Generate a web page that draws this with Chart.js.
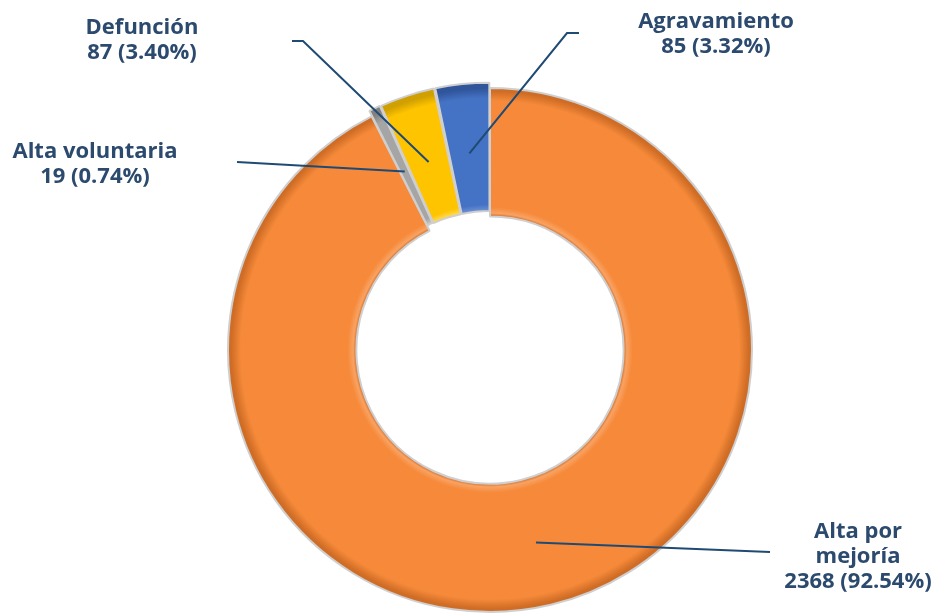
<!DOCTYPE html>
<html>
<head>
<meta charset="utf-8">
<script src="https://cdn.jsdelivr.net/npm/chart.js@4.4.0/dist/chart.umd.min.js"></script>
<style>
  html, body { margin: 0; padding: 0; background: #ffffff; }
  #wrap { width: 939px; height: 614px; position: relative; }
</style>
</head>
<body>
<div id="wrap"><canvas id="chart"></canvas></div>
<script>
// Data (clockwise from the top)
const categories = ['Alta por mejoría', 'Alta voluntaria', 'Defunción', 'Agravamiento'];
const counts = [2368, 19, 87, 85];
// How each category name is broken over lines in its label
const labelLines = [['Alta por', 'mejoría'], ['Alta voluntaria'], ['Defunción'], ['Agravamiento']];

// Colours: base, dark edge, light edge
const baseColors = ['#F68A3A', '#A5A5A5', '#FFC400', '#4472C4'];
const darkColors = ['#CF6C25', '#808080', '#D09F00', '#30559A'];
const lightColors = ['#F9A263', '#C9C9C9', '#FFD84D', '#6A8FD3'];

const RADIUS = 262;
const CUTOUT = 0.51;
const TEXT_COLOR = '#2B4A6E';
const LINE_COLOR = '#1F4A73';

// Where each label sits and where its leader line ends
const labelLayout = [
    { x: 858, y: 538, lineEnd: [[770, 552]] },
    { x: 95, y: 158, lineEnd: [[237, 162]] },
    { x: 142, y: 34, lineEnd: [[303, 41], [292, 41]] },
    { x: 716, y: 28, lineEnd: [[567, 33], [579, 33]] }
];

function ringFill(context) {
    const i = context.dataIndex;
    const chart = context.chart;
    const area = chart.chartArea;
    if (!area) {
        return baseColors[i];
    }
    const cx = (area.left + area.right) / 2;
    const cy = (area.top + area.bottom) / 2;
    const g = chart.ctx.createRadialGradient(cx, cy, RADIUS * CUTOUT, cx, cy, RADIUS);
    g.addColorStop(0, darkColors[i]);
    g.addColorStop(0.025, lightColors[i]);
    g.addColorStop(0.07, baseColors[i]);
    g.addColorStop(0.9, baseColors[i]);
    g.addColorStop(0.975, darkColors[i]);
    g.addColorStop(1, darkColors[i]);
    return g;
}

const total = counts.reduce((a, b) => a + b, 0);

const leaderLabels = {
    id: 'leaderLabels',
    afterDatasetsDraw(chart) {
        const ctx = chart.ctx;
        const meta = chart.getDatasetMeta(0);
        ctx.save();
        meta.data.forEach((arc, i) => {
            const p = arc.getProps(['x', 'y', 'startAngle', 'endAngle', 'innerRadius', 'outerRadius'], true);
            const mid = (p.startAngle + p.endAngle) / 2;
            const r = (p.innerRadius + p.outerRadius) / 2;
            const sx = p.x + Math.cos(mid) * r;
            const sy = p.y + Math.sin(mid) * r;
            const lay = labelLayout[i];

            ctx.strokeStyle = LINE_COLOR;
            ctx.lineWidth = 2;
            ctx.beginPath();
            ctx.moveTo(sx, sy);
            lay.lineEnd.forEach(pt => ctx.lineTo(pt[0], pt[1]));
            ctx.stroke();

            const pct = (counts[i] / total * 100).toFixed(2);
            const lines = labelLines[i].concat([counts[i] + ' (' + pct + '%)']);
            ctx.fillStyle = TEXT_COLOR;
            ctx.font = 'bold 22px "Open Sans"';
            ctx.textAlign = 'center';
            ctx.textBaseline = 'alphabetic';
            lines.forEach((txt, k) => {
                ctx.fillText(txt, lay.x, lay.y + k * 25);
            });
        });
        ctx.restore();
    }
};

new Chart(document.getElementById('chart'), {
    type: 'doughnut',
    data: {
        labels: categories,
        datasets: [{
            data: counts,
            backgroundColor: ringFill,
            borderColor: '#CFCFCF',
            borderWidth: 2,
            offset: [0, 12, 12, 12]
        }]
    },
    options: {
        responsive: true,
        maintainAspectRatio: false,
        animation: false,
        radius: RADIUS,
        cutout: (CUTOUT * 100) + '%',
        layout: {
            padding: { left: 41, right: 0, top: 86, bottom: 0 }
        },
        plugins: {
            legend: { display: false },
            tooltip: { enabled: false }
        }
    },
    plugins: [leaderLabels]
});
</script>
</body>
</html>
